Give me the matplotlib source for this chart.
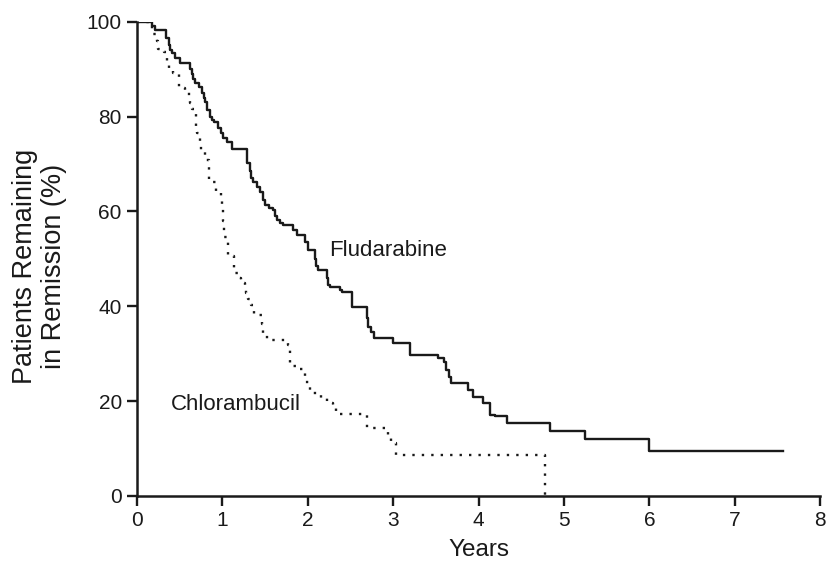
import matplotlib
matplotlib.use("Agg")
import matplotlib.pyplot as plt

# Kaplan-Meier style step data (years, % in remission)
flu_years = [0, 0.18, 0.21, 0.34, 0.37, 0.39, 0.41, 0.45, 0.50, 0.62, 0.64, 0.66,
             0.68, 0.72, 0.76, 0.78, 0.80, 0.82, 0.86, 0.88, 0.90, 0.95, 0.98, 1.01,
             1.05, 1.11, 1.29, 1.32, 1.34, 1.36, 1.41, 1.44, 1.47, 1.50, 1.55, 1.59,
             1.61, 1.64, 1.67, 1.71, 1.83, 1.87, 1.97, 2.00, 2.08, 2.10, 2.12, 2.22,
             2.24, 2.26, 2.38, 2.40, 2.52, 2.69, 2.71, 2.74, 2.78, 3.00, 3.20, 3.53,
             3.60, 3.62, 3.65, 3.68, 3.88, 3.94, 4.05, 4.13, 4.19, 4.33, 4.84, 5.25,
             6.00, 7.57]
flu_pct = [100, 99, 98.3, 96.5, 95, 94, 93.4, 92.3, 91.4, 90, 89, 88,
           87, 86.3, 85, 84, 83, 81.4, 80, 79.3, 78.9, 77.5, 76.5, 75.5,
           74.7, 73.2, 70.3, 68.5, 67, 66.2, 65.2, 64, 62.5, 61.4, 60.8, 60.3,
           59, 58.2, 57.5, 57.2, 56.1, 55.1, 53.5, 51.9, 50, 48.5, 47.7, 46,
           44.5, 44.1, 43.5, 43, 39.9, 37.5, 35.7, 34.5, 33.3, 32.2, 29.7, 29.0,
           28.3, 26.5, 25, 23.8, 22.4, 20.9, 19.6, 17.1, 16.9, 15.3, 13.6, 12.0,
           9.5, 9.5]

chl_years = [0, 0.18, 0.23, 0.25, 0.31, 0.35, 0.37, 0.42, 0.49, 0.56, 0.61, 0.62,
             0.64, 0.69, 0.70, 0.74, 0.75, 0.80, 0.845, 0.93, 0.98, 1.00, 1.01, 1.02,
             1.06, 1.07, 1.14, 1.20, 1.22, 1.26, 1.28, 1.30, 1.33, 1.37, 1.46, 1.48,
             1.52, 1.77, 1.79, 1.90, 1.97, 2.03, 2.15, 2.22, 2.30, 2.33, 2.69, 2.94,
             2.97, 3.03, 4.78, 4.78]
chl_pct = [100, 97.5, 96, 94.3, 93.7, 91.6, 90.1, 89.2, 86.1, 85.4, 84.4, 82.9,
           81.6, 78, 76.6, 74.7, 72.6, 70.9, 66.1, 64.4, 62.1, 60.7, 57.9, 54.5,
           51.9, 50.5, 47, 45.9, 44.9, 44.2, 42.8, 41.5, 40.3, 38.2, 36.2, 34,
           32.9, 31.9, 27.4, 26.7, 24.1, 21.8, 20.6, 19.6, 18.5, 17.2, 14.3, 12.9,
           11.2, 8.6, 0, 0]

x_ticks = [0, 1, 2, 3, 4, 5, 6, 7, 8]
y_ticks = [0, 20, 40, 60, 80, 100]

plt.rcParams['font.family'] = ['Liberation Sans', 'DejaVu Sans']
ink = '#1a1a1a'

fig = plt.figure(figsize=(8.27, 5.72), dpi=100)
ax = fig.add_axes([0.1657, 0.133, 0.826, 0.829])

ax.plot(flu_years, flu_pct, drawstyle='steps-post', color=ink, lw=1.7)
ax.plot(chl_years, chl_pct, drawstyle='steps-post', color=ink, lw=1.7,
        linestyle=(0, (1, 3)))

# curve labels, placed at their baselines
ax.text(2.25, 50.6, 'Fludarabine', fontsize=16, color=ink, va='baseline', ha='left')
ax.text(0.40, 18.1, 'Chlorambucil', fontsize=16, color=ink, va='baseline', ha='left')

ax.set_xlim(0, 8)
ax.set_ylim(0, 100)
ax.set_xticks(x_ticks)
ax.set_yticks(y_ticks)
ax.tick_params(direction='out', length=7, width=1.7, colors=ink, labelsize=15, pad=4)
for side in ['top', 'right']:
    ax.spines[side].set_visible(False)
for side in ['left', 'bottom']:
    ax.spines[side].set_linewidth(1.8)
    ax.spines[side].set_color(ink)

ax.set_xlabel('Years', fontsize=17.5, color=ink)
ax.xaxis.set_label_coords(0.5, -0.09)
ax.set_ylabel('Patients Remaining\nin Remission (%)', fontsize=19.5, color=ink,
              linespacing=1.15)
ax.yaxis.set_label_coords(-0.103, 0.485)

fig.savefig('out.png', dpi=100)
